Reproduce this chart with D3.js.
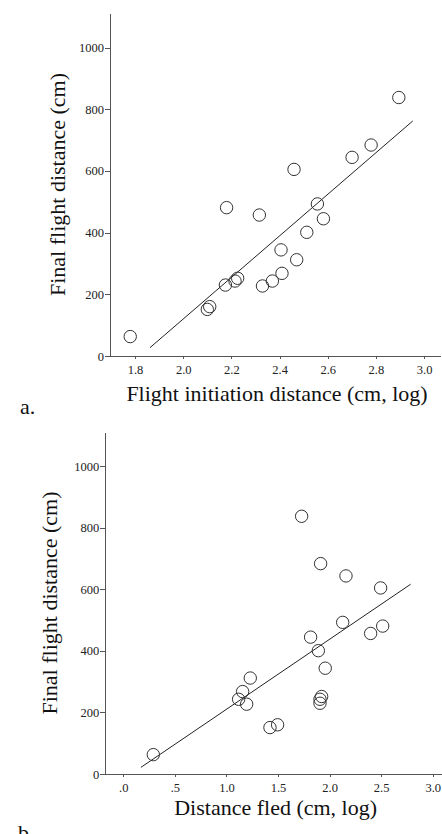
<!DOCTYPE html>
<meta charset="utf-8">
<style>
    body { margin: 0; background: #fff; }
    svg { display: block; }
    .axis path, .axis line { stroke: #555; shape-rendering: crispEdges; }
    .axis text { font-family: "Liberation Serif", "Times New Roman", serif; font-size: 12.5px; fill: #222; }
    .title { font-family: "Liberation Serif", "Times New Roman", serif; font-size: 22px; fill: #111; }
    .dot { fill: none; stroke: #333; stroke-width: 1; }
    .fit { stroke: #222; stroke-width: 1; }
</style>
<body>
<svg width="442" height="834"></svg>
<script src="https://d3js.org/d3.v7.min.js"></script>
<script>

    // final flight distance (cm), same birds in both panels
    var finalFlight = [63, 151, 160, 481, 230, 243, 252, 457, 227, 243, 344, 268, 605, 312, 401, 493, 445, 644, 684, 838];

    // panel a: flight initiation distance (cm, log)
    var initiation = [1.78, 2.10, 2.11, 2.18, 2.175, 2.215, 2.226, 2.316, 2.329, 2.370, 2.406, 2.410, 2.460, 2.471, 2.513, 2.557, 2.582, 2.701, 2.780, 2.895];
    var fitA = {x: [1.862, 2.953], y: [27, 762]};
    var ticksA = [1.8, 2.0, 2.2, 2.4, 2.6, 2.8, 3.0];
    var tickLabelsA = ["1.8", "2.0", "2.2", "2.4", "2.6", "2.8", "3.0"];

    // panel b: distance fled (cm, log)
    var fled = [0.291, 1.422, 1.496, 2.515, 1.907, 1.118, 1.923, 2.398, 1.196, 1.907, 1.958, 1.157, 2.495, 1.231, 1.891, 2.127, 1.816, 2.159, 1.913, 1.729];
    var fitB = {x: [0.171, 2.786], y: [21.6, 617]};
    var ticksB = [0, 0.5, 1.0, 1.5, 2.0, 2.5, 3.0];
    var tickLabelsB = [".0", ".5", "1.0", "1.5", "2.0", "2.5", "3.0"];

    var yTicks = [0, 200, 400, 600, 800, 1000];

    var svg = d3.select("svg");

    function drawPanel(cfg) {
        var x = d3.scaleLinear().domain(cfg.xDomain).range([cfg.left, cfg.right]),
            y = d3.scaleLinear().domain([0, 1112]).range([cfg.bottom, cfg.top]);

        var g = svg.append("g");

        g.append("g")
            .attr("class", "axis")
            .attr("transform", "translate(0," + cfg.bottom + ")")
            .call(d3.axisBottom(x).tickValues(cfg.ticks).tickSizeInner(3).tickSizeOuter(0).tickPadding(6.5)
                .tickFormat(function(d, i) { return cfg.tickLabels[i]; }));

        g.append("g")
            .attr("class", "axis")
            .attr("transform", "translate(" + cfg.left + ",0)")
            .call(d3.axisLeft(y).tickValues(yTicks).tickSizeInner(5).tickSizeOuter(0).tickPadding(1)
                .tickFormat(d3.format("d")));

        // regression line
        g.append("line")
            .attr("class", "fit")
            .attr("x1", x(cfg.fit.x[0])).attr("y1", y(cfg.fit.y[0]))
            .attr("x2", x(cfg.fit.x[1])).attr("y2", y(cfg.fit.y[1]));

        g.selectAll(".dot")
            .data(cfg.xs)
            .enter().append("circle")
            .attr("class", "dot")
            .attr("cx", function(d) { return x(d); })
            .attr("cy", function(d, i) { return y(finalFlight[i]); })
            .attr("r", 6.2);

        g.append("text")
            .attr("class", "title")
            .attr("x", (cfg.left + cfg.right) / 2 + 2)
            .attr("y", cfg.xTitleY)
            .attr("text-anchor", "middle")
            .text(cfg.xTitle);

        g.append("text")
            .attr("class", "title")
            .attr("transform", "translate(" + cfg.yTitleX + "," + ((cfg.top + cfg.bottom) / 2) + ") rotate(-90)")
            .attr("text-anchor", "middle")
            .text("Final flight distance (cm)");

        g.append("text")
            .attr("class", "title")
            .attr("x", cfg.tagX)
            .attr("y", cfg.tagY)
            .text(cfg.tag);
    }

    drawPanel({
        xs: initiation, fit: fitA, ticks: ticksA, tickLabels: tickLabelsA,
        xDomain: [1.696, 3.066],
        left: 110, right: 440, top: 13, bottom: 356,
        xTitle: "Flight initiation distance (cm, log)", xTitleY: 401,
        yTitleX: 65, tag: "a.", tagX: 20, tagY: 414
    });

    drawPanel({
        xs: fled, fit: fitB, ticks: ticksB, tickLabels: tickLabelsB,
        xDomain: [-0.1745, 3.09],
        left: 105.3, right: 442, top: 432, bottom: 774,
        xTitle: "Distance fled (cm, log)", xTitleY: 815,
        yTitleX: 56.5, tag: "b.", tagX: 18, tagY: 840
    });

</script>
</body>
